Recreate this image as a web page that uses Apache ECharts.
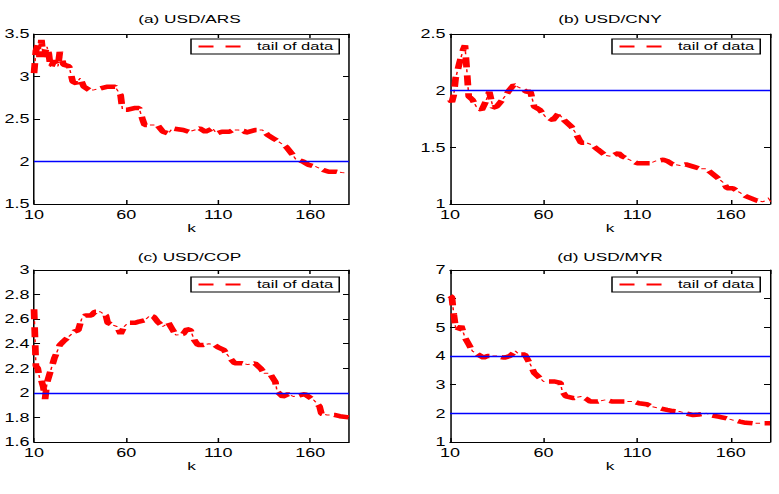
<!DOCTYPE html>
<html>
<head>
<meta charset="utf-8">
<script src="https://cdn.jsdelivr.net/npm/echarts@6/dist/echarts.min.js"></script>
<style>
html,body{margin:0;padding:0;background:#fff;overflow:hidden;width:779px;height:494px;}
#chart{width:519px;height:494px;transform:scaleX(1.50096);transform-origin:0 0;}
</style>
</head>
<body>
<div id="chart"></div>
<script>
// ---- data ----
const titles = ['(a) USD/ARS', '(b) USD/CNY', '(c) USD/COP', '(d) USD/MYR'];
const seriesName = 'tail of data';
const xTicks = [10, 60, 110, 160];

const kA = [10,11,12,13,14,15,17,18,19,21,23,24,26,29,31,33,35,37,40,42,46,50,54,57,58,61,65,67,69,70,74,77,80,83,85,91,94,100,103,107,109,112,116,118,121,124,125,130,134,137,140,143,147,150,152,156,159,163,167,170,174,177,181];
const usdArs = [3.04,3.30,3.37,3.23,3.43,3.23,3.35,3.27,3.10,3.19,3.12,3.29,3.14,3.12,2.94,2.92,2.98,2.88,2.84,2.84,2.86,2.88,2.88,2.78,2.61,2.61,2.63,2.63,2.49,2.43,2.43,2.43,2.35,2.33,2.39,2.37,2.35,2.39,2.35,2.39,2.33,2.35,2.35,2.37,2.37,2.36,2.34,2.37,2.37,2.31,2.27,2.23,2.17,2.09,2.03,2.00,1.96,1.94,1.90,1.88,1.88,1.87,1.86];

const kB = [10,11,12,13,15,17,18,19,20,22,24,27,29,31,33,35,38,42,44,48,51,53,55,58,61,65,68,71,75,77,80,83,86,89,93,96,100,102,106,110,113,117,120,124,126,129,133,136,140,144,147,150,153,156,158,161,165,168,171,174,177,181];
const usdCny = [1.92,1.90,1.96,2.11,2.24,2.36,2.40,2.18,1.95,1.92,1.86,1.83,1.90,1.99,1.85,1.86,1.92,2.01,2.05,2.02,1.99,1.99,1.86,1.83,1.77,1.74,1.80,1.74,1.68,1.63,1.54,1.54,1.52,1.48,1.43,1.42,1.45,1.42,1.39,1.36,1.36,1.36,1.38,1.39,1.38,1.35,1.34,1.35,1.33,1.31,1.31,1.27,1.23,1.19,1.14,1.14,1.10,1.07,1.05,1.03,1.02,1.04];

const kC = [10,11,12,13,14,15,16,17,19,21,24,26,29,32,34,36,38,41,43,46,49,50,53,55,57,59,61,65,67,70,73,75,77,80,83,85,87,91,93,95,97,99,102,105,108,110,113,116,119,123,126,130,133,135,138,141,142,145,148,151,154,157,159,162,165,166,169,173,176,181];
const usdCop = [2.68,2.22,2.20,2.12,2.10,2.05,1.95,2.08,2.18,2.28,2.39,2.42,2.46,2.50,2.51,2.61,2.63,2.63,2.66,2.66,2.63,2.57,2.55,2.54,2.48,2.54,2.57,2.57,2.58,2.59,2.63,2.62,2.58,2.54,2.57,2.52,2.47,2.48,2.52,2.51,2.43,2.39,2.39,2.40,2.39,2.37,2.35,2.29,2.24,2.24,2.23,2.24,2.20,2.16,2.16,2.09,2.01,1.97,1.99,1.97,1.98,1.99,1.97,1.94,1.89,1.83,1.82,1.82,1.81,1.80];

const kD = [10,11,12,13,14,16,18,20,22,25,28,30,35,39,42,45,47,50,53,55,58,60,62,66,69,70,72,76,80,83,85,89,93,97,101,104,108,111,115,118,122,126,129,133,136,140,143,147,150,154,158,161,165,168,172,175,181];
const usdMyr = [6.10,6.05,5.46,4.99,4.88,5.05,4.64,4.41,4.17,4.05,3.94,4.00,4.00,3.94,4.00,4.17,4.05,4.05,3.70,3.41,3.23,3.11,3.11,3.11,3.06,2.76,2.59,2.53,2.59,2.50,2.41,2.41,2.47,2.41,2.41,2.41,2.41,2.35,2.32,2.23,2.18,2.12,2.08,2.06,2.00,1.94,1.96,2.00,1.92,1.88,1.82,1.77,1.71,1.67,1.65,1.65,1.65];

const refLines = [[2], [2], [2], [4, 2]];
const yMins = [1.5, 1, 1.6, 1];
const yMaxs = [3.5, 2.5, 3, 7];
const yIntervals = [0.5, 0.5, 0.2, 1];

// ---- layout (original-pixel coords, converted to the horizontally scaled canvas) ----
const S = 1.50096;
const X = px => px / S;
const FONT = 'Liberation Sans, Arial, Helvetica, sans-serif';
const panels = [
  {l: 29.5, r: 349, t: 34, h: 170, tx: 189.5, ty: 13, ly: 39, lx: 191, ng: 12},
  {l: 450, r: 770, t: 34, h: 170, tx: 610, ty: 13, ly: 39, lx: 612, ng: 12},
  {l: 29.5, r: 349, t: 270, h: 172, tx: 189.5, ty: 251, ly: 277, lx: 191, ng: 14},
  {l: 450, r: 770, t: 270, h: 172, tx: 610, ty: 251, ly: 277, lx: 612, ng: 14}
];
const kArr = [kA, kB, kC, kD];
const vArr = [usdArs, usdCny, usdCop, usdMyr];

const grid = [], xAxis = [], yAxis = [], series = [], title = [], legend = [];
const black = '#000';
panels.forEach((p, i) => {
  grid.push({left: X(p.l), top: p.t, width: X(p.r) - X(p.l), height: p.h, containLabel: false});
  const common = {
    gridIndex: i, type: 'value',
    axisLine: {show: true, lineStyle: {color: black, width: 1}},
    axisTick: {show: true, inside: true, length: 4, lineStyle: {color: black}},
    splitLine: {show: false}
  };
  xAxis.push(Object.assign({}, common, {
    min: 10, max: 181, interval: 50, position: 'bottom',
    name: 'k', nameLocation: 'middle', nameGap: p.ng,
    nameTextStyle: {fontSize: 11.5, color: black, fontFamily: FONT},
    axisLabel: {fontSize: 12, color: black, fontFamily: FONT, margin: 5, showMaxLabel: false}
  }));
  xAxis.push(Object.assign({}, common, {
    min: 10, max: 181, interval: 50, position: 'top', axisLabel: {show: false}
  }));
  yAxis.push(Object.assign({}, common, {
    min: yMins[i], max: yMaxs[i], interval: yIntervals[i], position: 'left',
    axisLabel: {fontSize: 12, color: black, fontFamily: FONT, margin: 3}
  }));
  yAxis.push(Object.assign({}, common, {
    min: yMins[i], max: yMaxs[i], interval: yIntervals[i], position: 'right', axisLabel: {show: false}
  }));
  const data = kArr[i].map((k, j) => [k, vArr[i][j]]);
  series.push({
    name: seriesName, type: 'line', xAxisIndex: 2 * i, yAxisIndex: 2 * i,
    data: data, showSymbol: false, symbol: 'none', animation: false, z: 2,
    lineStyle: {color: '#ff0000', width: 4.5, type: [10, 8], cap: 'butt'},
    itemStyle: {color: '#ff0000'}
  });
  series.push({
    name: 'dot-' + i, type: 'line', xAxisIndex: 2 * i, yAxisIndex: 2 * i,
    data: data, showSymbol: false, symbol: 'none', animation: false, z: 3,
    lineStyle: {color: '#ff0000', width: 1, type: [3, 15], dashOffset: 5.5, cap: 'butt'},
    markLine: {
      silent: true, symbol: 'none', animation: false, label: {show: false}, z: 5,
      lineStyle: {color: '#0000ff', width: 1.3, type: 'solid', opacity: 1},
      data: refLines[i].map(v => ({yAxis: v}))
    }
  });
  title.push({
    text: titles[i], left: X(p.tx), top: p.ty, textAlign: 'center', padding: 0,
    textStyle: {fontSize: 11.5, fontWeight: 'normal', color: black, fontFamily: FONT}
  });
  legend.push({
    data: [seriesName], left: X(p.lx), top: p.ly, orient: 'horizontal',
    itemWidth: 34, itemHeight: 12, itemGap: 0,
    padding: [2, 4, 2, 4], borderColor: black, borderWidth: 1, borderRadius: 0,
    backgroundColor: '#fff', selectedMode: false,
    itemStyle: {opacity: 0},
    textStyle: {fontSize: 11, color: black, fontFamily: FONT, padding: [0, 0, 0, 0]}
  });
});

const chart = echarts.init(document.getElementById('chart'), null, {renderer: 'svg'});
chart.setOption({
  backgroundColor: '#fff',
  animation: false,
  textStyle: {fontFamily: FONT},
  title, legend, grid, xAxis, yAxis, series
});
</script>
</body>
</html>
